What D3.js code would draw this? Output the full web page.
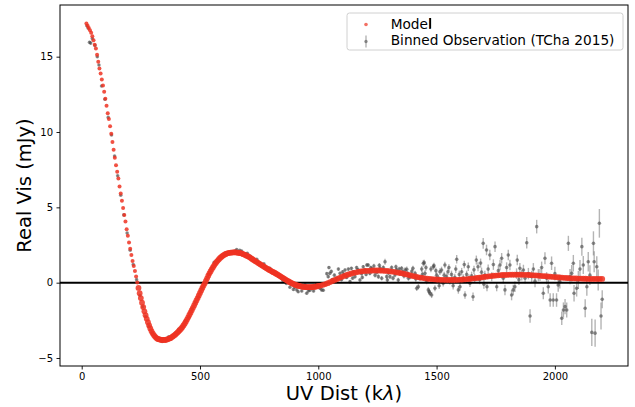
<!DOCTYPE html>
<html>
<head>
<meta charset="utf-8">
<script src="https://cdn.jsdelivr.net/npm/d3@7"></script>
<style>
  body { margin: 0; background: #fff; }
  svg { display: block; font-family: "DejaVu Sans", sans-serif; }
</style>
</head>
<body>
<div id="chart"></div>
<script>
// axis ticks
const xTicks = [0, 500, 1000, 1500, 2000];
const yTicks = [-5, 0, 5, 10, 15];

// model visibilities [uv dist (klambda), real vis (mJy)]
const model = [
  [20,17.20],[25,17.06],[30,16.91],[35,16.76],[40,16.59],[45,16.36],[50,16.09],[55,15.80],
  [60,15.54],[65,15.12],[70,14.66],[75,14.22],[80,13.88],[85,13.48],[90,13.08],[95,12.68],
  [100,12.21],[105,11.75],[110,11.24],[115,10.86],[120,10.38],[125,9.88],[130,9.33],[135,8.82],
  [140,8.30],[145,7.80],[150,7.36],[155,6.91],[160,6.39],[165,5.92],[170,5.43],[175,4.95],
  [180,4.49],[185,4.06],[190,3.55],[195,3.12],[200,2.67],[205,2.25],[210,1.83],[215,1.44],
  [220,1.10],[225,0.78],[230,0.41],[235,0.02],[240,-0.35],[245,-0.70],[250,-1.02],[255,-1.33],
  [260,-1.62],[265,-1.90],[270,-2.16],[275,-2.40],[280,-2.62],[285,-2.84],[290,-3.04],[295,-3.21],
  [300,-3.36],[305,-3.48],[310,-3.58],[315,-3.66],[320,-3.72],[325,-3.75],[330,-3.77],[335,-3.79],
  [340,-3.80],[345,-3.80],[350,-3.80],[355,-3.79],[360,-3.77],[365,-3.74],[370,-3.71],[375,-3.68],
  [380,-3.63],[385,-3.57],[390,-3.51],[395,-3.45],[400,-3.38],[405,-3.30],[410,-3.22],[415,-3.14],
  [420,-3.05],[425,-2.95],[430,-2.84],[435,-2.72],[440,-2.59],[445,-2.45],[450,-2.30],[455,-2.14],
  [460,-1.99],[465,-1.83],[470,-1.67],[475,-1.51],[480,-1.35],[485,-1.18],[490,-1.02],[495,-0.85],
  [500,-0.68],[505,-0.52],[510,-0.35],[515,-0.19],[520,-0.04],[525,0.12],[530,0.29],[535,0.46],
  [540,0.62],[545,0.76],[550,0.90],[555,1.03],[560,1.15],[565,1.27],[570,1.38],[575,1.47],
  [580,1.56],[585,1.64],[590,1.71],[595,1.77],[600,1.83],[605,1.87],[610,1.91],[615,1.94],
  [620,1.96],[625,1.98],[630,1.99],[635,2.00],[640,2.01],[645,2.01],[650,2.01],[655,2.00],
  [660,1.99],[665,1.97],[670,1.96],[675,1.94],[680,1.91],[685,1.88],[690,1.85],[695,1.81],
  [700,1.77],[705,1.73],[710,1.68],[715,1.63],[720,1.58],[725,1.53],[730,1.47],[735,1.42],
  [740,1.37],[745,1.32],[750,1.27],[755,1.22],[760,1.17],[765,1.12],[770,1.07],[775,1.02],
  [780,0.97],[785,0.92],[790,0.88],[795,0.83],[800,0.79],[805,0.74],[810,0.70],[815,0.66],
  [820,0.61],[825,0.57],[830,0.52],[835,0.47],[840,0.42],[845,0.37],[850,0.32],[855,0.27],
  [860,0.22],[865,0.17],[870,0.12],[875,0.08],[880,0.03],[885,-0.01],[890,-0.05],[895,-0.09],
  [900,-0.12],[905,-0.15],[910,-0.18],[915,-0.20],[920,-0.22],[925,-0.24],[930,-0.26],[935,-0.27],
  [940,-0.28],[945,-0.29],[950,-0.30],[955,-0.30],[960,-0.30],[965,-0.30],[970,-0.30],[975,-0.29],
  [980,-0.28],[985,-0.27],[990,-0.26],[995,-0.24],[1000,-0.22],[1010,-0.19],[1020,-0.14],[1030,-0.09],
  [1040,-0.03],[1050,0.04],[1060,0.11],[1070,0.18],[1080,0.25],[1090,0.32],[1100,0.39],[1110,0.45],
  [1120,0.51],[1130,0.56],[1140,0.61],[1150,0.65],[1160,0.69],[1170,0.72],[1180,0.75],[1190,0.77],
  [1200,0.78],[1210,0.79],[1220,0.80],[1230,0.81],[1240,0.81],[1250,0.81],[1260,0.81],[1270,0.80],
  [1280,0.79],[1290,0.78],[1300,0.76],[1310,0.74],[1320,0.72],[1330,0.69],[1340,0.66],[1350,0.63],
  [1360,0.60],[1370,0.56],[1380,0.52],[1390,0.48],[1400,0.44],[1410,0.41],[1420,0.37],[1430,0.34],
  [1440,0.32],[1450,0.29],[1460,0.27],[1470,0.25],[1480,0.24],[1490,0.22],[1500,0.21],[1510,0.20],
  [1520,0.19],[1530,0.19],[1540,0.18],[1550,0.18],[1560,0.18],[1570,0.18],[1580,0.18],[1590,0.19],
  [1600,0.20],[1610,0.21],[1620,0.22],[1630,0.24],[1640,0.25],[1650,0.27],[1660,0.29],[1670,0.31],
  [1680,0.33],[1690,0.35],[1700,0.38],[1710,0.40],[1720,0.42],[1730,0.44],[1740,0.46],[1750,0.47],
  [1760,0.49],[1770,0.50],[1780,0.51],[1790,0.51],[1800,0.52],[1810,0.53],[1820,0.53],[1830,0.53],
  [1840,0.53],[1850,0.53],[1860,0.53],[1870,0.52],[1880,0.52],[1890,0.51],[1900,0.50],[1910,0.49],
  [1920,0.48],[1930,0.47],[1940,0.45],[1950,0.44],[1960,0.43],[1970,0.41],[1980,0.40],[1990,0.39],
  [2000,0.37],[2010,0.36],[2020,0.35],[2030,0.33],[2040,0.32],[2050,0.31],[2060,0.30],[2070,0.29],
  [2080,0.28],[2090,0.28],[2100,0.27],[2110,0.27],[2120,0.26],[2130,0.26],[2140,0.25],[2150,0.25],
  [2160,0.25],[2170,0.25],[2180,0.25],[2190,0.25],[2200,0.25]
];

// binned observations [uv dist, real vis, error]
const observed = [
  [22,17.05,0.08],[27,16.9,0.08],[33,15.95,0.1],[38,15.9,0.1],[45,16.2,0.08],[56,15.75,0.08],
  [66,15.0,0.07],[73,14.45,0.07],[84,13.05,0.07],[98,12.17,0.06],[112,10.97,0.06],[126,9.8,0.06],
  [139,8.4,0.06],[152,7.1,0.06],[165,5.8,0.05],[178,4.5,0.05],[192,3.3,0.05],[205,2.15,0.05],
  [218,1.2,0.05],[232,0.2,0.05],[246,-0.85,0.05],[258,-1.6,0.05],[270,-2.25,0.05],[284,-2.9,0.05],
  [298,-3.35,0.05],[312,-3.6,0.05],[326,-3.8,0.05],[340,-3.9,0.05],[354,-3.85,0.05],[368,-3.6,0.05],
  [382,-3.55,0.05],[396,-3.35,0.05],[410,-3.1,0.05],[424,-2.95,0.05],[438,-2.55,0.05],[452,-2.3,0.05],
  [466,-1.75,0.05],[480,-1.3,0.05],[494,-0.95,0.05],[508,-0.35,0.05],[522,0.0,0.05],[536,0.55,0.05],
  [550,0.95,0.05],[560,1.35,0.05],[564,1.3,0.05],[578,1.55,0.05],[592,1.8,0.05],[600,1.75,0.05],
  [606,1.95,0.05],[620,2.0,0.05],[634,2.0,0.05],[648,2.1,0.06],[655,2.2,0.06],[662,2.05,0.06],
  [668,2.15,0.06],[676,2.1,0.06],[690,1.9,0.06],[700,1.95,0.06],[704,1.7,0.06],[712,1.75,0.06],
  [718,1.65,0.06],[732,1.4,0.06],[740,1.55,0.06],[746,1.3,0.06],[760,1.1,0.06],[770,1.25,0.06],
  [774,1.05,0.06],[788,0.85,0.06],[795,0.95,0.06],[802,0.7,0.07],[816,0.65,0.07],[820,0.55,0.07],
  [830,0.45,0.07],[844,0.3,0.07],[850,0.15,0.07],[858,0.2,0.07],[865,-0.05,0.07],[872,0.05,0.07],
  [880,-0.3,0.07],[886,-0.1,0.08],[895,-0.45,0.08],[900,-0.3,0.08],[909,-0.48,0.08],[915,-0.6,0.08],
  [923,-0.25,0.08],[930,-0.55,0.08],[944,-0.15,0.08],[951,-0.7,0.09],[958,-0.55,0.09],[965,-0.5,0.08],
  [972,-0.35,0.08],[980,-0.55,0.09],[986,-0.27,0.09],[993,-0.1,0.09],[1000,-0.15,0.09],[1007,-0.37,0.1],
  [1014,-0.48,0.1],[1021,-0.5,0.1],[1030,-0.1,0.1],[1036,0.6,0.1],[1042,0.4,0.1],[1045,1.0,0.1],
  [1049,0.62,0.1],[1055,0.75,0.1],[1060,0.2,0.1],[1068,0.5,0.1],[1077,0.29,0.1],[1085,0.9,0.1],
  [1092,0.62,0.1],[1098,0.2,0.1],[1103,0.73,0.1],[1108,0.55,0.1],[1113,0.84,0.1],[1120,0.35,0.1],
  [1127,0.9,0.1],[1134,0.07,0.1],[1140,0.95,0.1],[1145,0.3,0.1],[1148,0.73,0.1],[1155,0.4,0.1],
  [1162,1.0,0.12],[1168,0.85,0.12],[1176,0.18,0.12],[1183,0.6,0.12],[1186,0.35,0.12],[1190,1.06,0.12],
  [1197,0.84,0.12],[1202,0.55,0.12],[1205,1.17,0.12],[1211,1.17,0.12],[1218,0.62,0.12],[1222,1.0,0.12],
  [1226,0.9,0.12],[1235,1.11,0.15],[1240,0.5,0.15],[1248,0.7,0.15],[1254,0.4,0.15],[1258,1.15,0.15],
  [1261,0.95,0.15],[1268,0.29,0.15],[1275,1.0,0.15],[1282,1.39,0.2],[1289,0.4,0.15],[1292,0.18,0.15],
  [1296,0.65,0.15],[1303,0.4,0.15],[1310,1.0,0.15],[1316,0.3,0.15],[1324,0.51,0.15],[1328,1.05,0.15],
  [1331,0.85,0.15],[1338,0.18,0.15],[1342,0.9,0.15],[1345,0.62,0.15],[1352,0.95,0.15],[1357,0.73,0.15],
  [1362,0.45,0.18],[1367,0.84,0.18],[1374,0.89,0.18],[1378,0.6,0.18],[1381,0.3,0.18],[1388,0.4,0.18],
  [1395,0.75,0.18],[1400,0.95,0.18],[1409,0.62,0.18],[1412,0.25,0.18],[1416,-0.37,0.18],[1423,-0.27,0.18],
  [1430,0.3,0.18],[1437,0.9,0.2],[1440,0.55,0.2],[1444,1.29,0.22],[1448,1.33,0.2],[1451,0.62,0.2],
  [1455,1.0,0.2],[1458,0.1,0.2],[1465,-0.48,0.2],[1469,-0.6,0.2],[1472,-0.7,0.2],[1476,0.9,0.2],
  [1479,-0.82,0.2],[1486,1.06,0.2],[1489,1.13,0.2],[1493,-0.37,0.2],[1497,0.8,0.2],[1500,0.5,0.2],
  [1507,0.3,0.22],[1511,-0.2,0.22],[1514,0.73,0.22],[1521,0.84,0.22],[1528,-0.04,0.22],[1532,0.5,0.22],
  [1535,1.17,0.22],[1542,0.4,0.22],[1548,0.73,0.22],[1552,1.0,0.22],[1556,0.1,0.22],[1563,0.55,0.25],
  [1566,0.2,0.25],[1570,-0.2,0.25],[1577,0.35,0.25],[1581,0.9,0.25],[1585,1.55,0.28],[1592,-0.48,0.25],
  [1596,0.55,0.25],[1599,-0.27,0.25],[1606,0.73,0.25],[1613,0.3,0.25],[1617,1.2,0.25],[1620,-0.82,0.25],
  [1627,0.55,0.25],[1634,1.06,0.28],[1637,0.3,0.25],[1641,-0.04,0.25],[1648,0.45,0.28],[1654,-0.93,0.28],
  [1658,0.85,0.28],[1661,0.3,0.28],[1668,1.5,0.3],[1675,1.06,0.3],[1682,0.2,0.3],[1686,1.3,0.3],
  [1690,0.7,0.3],[1697,2.61,0.35],[1700,-0.1,0.3],[1704,0.5,0.3],[1711,2.17,0.35],[1713,-0.27,0.3],
  [1718,0.9,0.3],[1725,1.84,0.35],[1733,0.4,0.3],[1740,1.2,0.35],[1747,2.39,0.35],[1754,-0.27,0.3],
  [1761,0.8,0.35],[1768,1.17,0.35],[1775,1.62,0.35],[1782,0.3,0.35],[1789,-0.48,0.35],[1796,1.0,0.35],
  [1803,1.84,0.35],[1810,1.17,0.35],[1817,-0.82,0.35],[1824,-0.48,0.35],[1831,-0.27,0.35],[1838,0.6,0.35],
  [1841,1.5,0.35],[1848,0.2,0.35],[1852,0.96,0.35],[1860,0.5,0.35],[1867,0.84,0.35],[1874,0.3,0.35],
  [1881,2.65,0.38],[1888,0.6,0.38],[1895,-2.21,0.45],[1902,0.4,0.4],[1909,0.9,0.4],[1916,0.1,0.4],
  [1923,3.72,0.45],[1930,0.5,0.4],[1937,0.51,0.4],[1944,1.0,0.4],[1951,-0.7,0.4],[1958,1.62,0.4],
  [1965,0.3,0.4],[1972,-0.27,0.45],[1980,-1.15,0.45],[1986,1.29,0.45],[1993,-1.15,0.45],[2000,0.6,0.45],
  [2007,-1.15,0.45],[2014,-0.15,0.45],[2021,0.07,0.45],[2029,-2.36,0.45],[2036,-1.81,0.5],[2043,-1.59,0.5],
  [2050,-1.81,0.5],[2057,2.61,0.5],[2064,0.4,0.5],[2071,0.62,0.55],[2078,1.29,0.55],[2081,-0.7,0.55],
  [2092,-0.37,0.55],[2099,0.18,0.6],[2106,0.9,0.6],[2114,2.39,0.6],[2120,1.17,0.6],[2128,-1.7,0.6],
  [2135,-0.27,0.6],[2141,1.39,0.65],[2148,0.5,0.65],[2156,-3.3,0.9],[2163,2.61,0.8],[2166,1.39,0.7],
  [2170,-3.35,0.9],[2177,1.06,0.7],[2183,0.18,0.7],[2188,3.94,0.95],[2195,-2.21,0.9],[2200,-1.1,0.6]
];

const width = 635, height = 407;
const margin = {top: 5, right: 7, bottom: 41, left: 60};

const svg = d3.select("#chart").append("svg")
  .attr("width", width)
  .attr("height", height);

svg.append("rect").attr("width", width).attr("height", height).attr("fill", "#fff");

const x = d3.scaleLinear().domain([-91.7, 2309]).range([margin.left, width - margin.right]);
const y = d3.scaleLinear().domain([-5.53, 18.43]).range([height - margin.bottom, margin.top]);

const plot = svg.append("g");

// error bars
plot.append("g").selectAll("line")
  .data(observed)
  .join("line")
  .attr("x1", d => x(d[0]))
  .attr("x2", d => x(d[0]))
  .attr("y1", d => y(d[1] - d[2]))
  .attr("y2", d => y(d[1] + d[2]))
  .attr("stroke", "#777")
  .attr("stroke-opacity", 0.55)
  .attr("stroke-width", 1.4);

// observed points
plot.append("g").selectAll("circle")
  .data(observed)
  .join("circle")
  .attr("cx", d => x(d[0]))
  .attr("cy", d => y(d[1]))
  .attr("r", 1.8)
  .attr("fill", "#444")
  .attr("fill-opacity", 0.6);

// zero line
plot.append("line")
  .attr("x1", margin.left).attr("x2", width - margin.right)
  .attr("y1", y(0)).attr("y2", y(0))
  .attr("stroke", "#000")
  .attr("stroke-width", 2);

// model points
plot.append("g").selectAll("circle")
  .data(model)
  .join("circle")
  .attr("cx", d => x(d[0]))
  .attr("cy", d => y(d[1]))
  .attr("r", d => d[0] < 240 ? 2 : 2.9)
  .attr("fill", "#ee3322")
  .attr("fill-opacity", 0.85);

// axes
const fmt = d => d < 0 ? "\u2212" + Math.abs(d) : String(d);
const xAxis = svg.append("g")
  .attr("transform", `translate(0,${height - margin.bottom})`)
  .call(d3.axisBottom(x).tickValues(xTicks).tickFormat(fmt).tickSize(3.5).tickSizeOuter(0).tickPadding(3.5));
const yAxis = svg.append("g")
  .attr("transform", `translate(${margin.left},0)`)
  .call(d3.axisLeft(y).tickValues(yTicks).tickFormat(fmt).tickSize(3.5).tickSizeOuter(0).tickPadding(3.5));

[xAxis, yAxis].forEach(a => {
  a.select(".domain").remove();
  a.selectAll("text").attr("font-size", "10px").attr("font-family", "DejaVu Sans").attr("fill", "#000");
  a.selectAll("line").attr("stroke", "#000").attr("stroke-width", 0.9);
});

// frame
svg.append("rect")
  .attr("x", margin.left).attr("y", margin.top)
  .attr("width", width - margin.left - margin.right)
  .attr("height", height - margin.top - margin.bottom)
  .attr("fill", "none")
  .attr("stroke", "#000")
  .attr("stroke-width", 1);

// axis labels
const xl = svg.append("text")
  .attr("x", (margin.left + width - margin.right) / 2)
  .attr("y", 400)
  .attr("text-anchor", "middle")
  .attr("font-size", "19.5px");
xl.append("tspan").text("UV Dist (k");
xl.append("tspan").attr("font-style", "italic").text("λ");
xl.append("tspan").text(")");

svg.append("text")
  .attr("transform", `translate(30.5,${(margin.top + height - margin.bottom) / 2}) rotate(-90)`)
  .attr("text-anchor", "middle")
  .attr("font-size", "19.5px")
  .text("Real Vis (mJy)");

// legend
const legend = svg.append("g");
legend.append("rect")
  .attr("x", 347).attr("y", 13)
  .attr("width", 276).attr("height", 37)
  .attr("rx", 2.5)
  .attr("fill", "#fff").attr("fill-opacity", 0.8)
  .attr("stroke", "#d0d0d0").attr("stroke-width", 1);

legend.append("circle")
  .attr("cx", 366).attr("cy", 24.5).attr("r", 1.8)
  .attr("fill", "#ee3322").attr("fill-opacity", 0.7);
legend.append("text")
  .attr("x", 390.7).attr("y", 28.5)
  .attr("font-size", "13.7px")
  .text("Model");
legend.append("rect")
  .attr("x", 429.5).attr("y", 18).attr("width", 1.6).attr("height", 10.5)
  .attr("fill", "#000");

legend.append("line")
  .attr("x1", 366).attr("x2", 366).attr("y1", 35.5).attr("y2", 47.5)
  .attr("stroke", "#777").attr("stroke-opacity", 0.55).attr("stroke-width", 1.4);
legend.append("circle")
  .attr("cx", 366).attr("cy", 41.5).attr("r", 1.7)
  .attr("fill", "#444").attr("fill-opacity", 0.55);
legend.append("text")
  .attr("x", 390.7).attr("y", 45)
  .attr("font-size", "13.7px")
  .text("Binned Observation (TCha 2015)");
</script>
</body>
</html>
